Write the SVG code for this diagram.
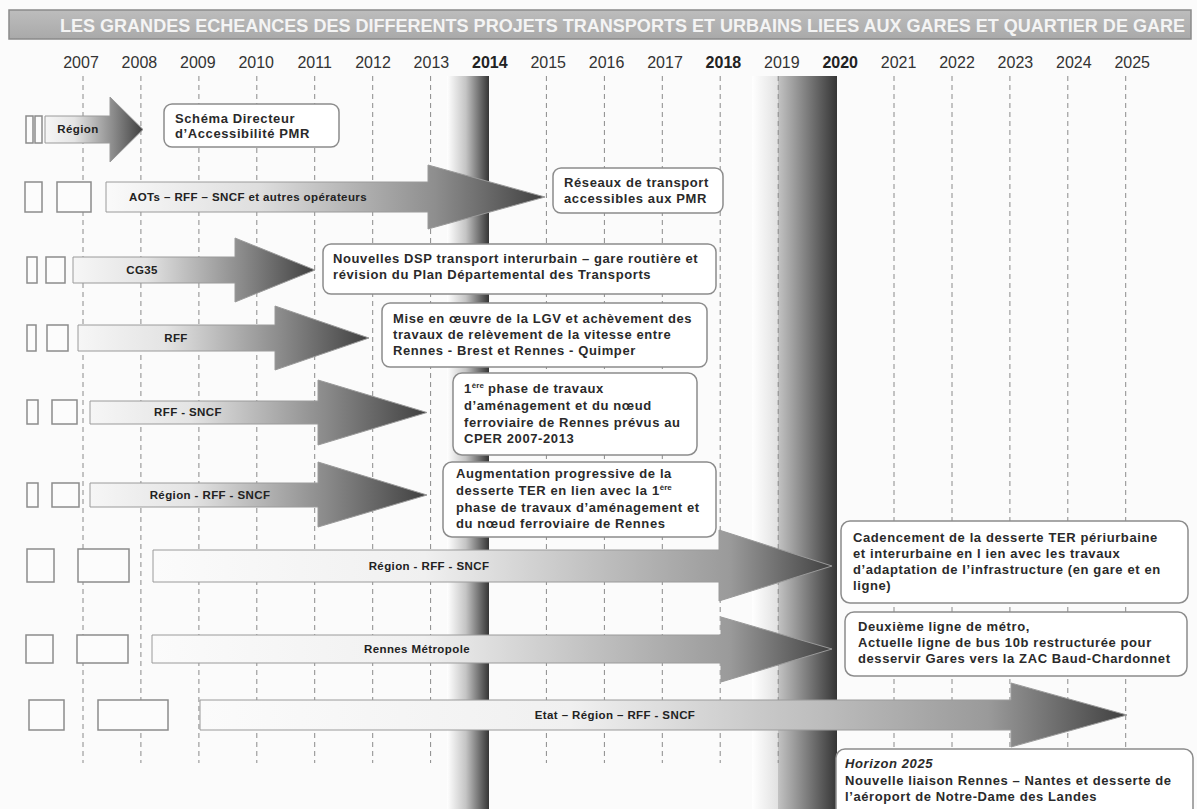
<svg xmlns="http://www.w3.org/2000/svg" width="1197" height="809" viewBox="0 0 1197 809">
  <defs>
    <!-- shading for the milestone bands (dark edge on the right) -->
    <linearGradient id="band2014" x1="0" y1="0" x2="1" y2="0">
      <stop offset="0" stop-color="#ffffff"/>
      <stop offset="0.45" stop-color="#c4c4c4"/>
      <stop offset="1" stop-color="#353535"/>
    </linearGradient>
    <linearGradient id="band2020" x1="0" y1="0" x2="1" y2="0">
      <stop offset="0" stop-color="#ffffff"/>
      <stop offset="0.3" stop-color="#e2e2e2"/>
      <stop offset="0.31" stop-color="#c2c2c2"/>
      <stop offset="1" stop-color="#353535"/>
    </linearGradient>
    <!-- arrow fills: light tail to dark head -->
    <linearGradient id="arrShort" x1="0" y1="0" x2="1" y2="0">
      <stop offset="0" stop-color="#f6f6f6"/>
      <stop offset="0.3" stop-color="#e4e4e4"/>
      <stop offset="0.7" stop-color="#8a8a8a"/>
      <stop offset="1" stop-color="#404040"/>
    </linearGradient>
    <linearGradient id="arrMid" x1="0" y1="0" x2="1" y2="0">
      <stop offset="0" stop-color="#fafafa"/>
      <stop offset="0.35" stop-color="#dedede"/>
      <stop offset="0.75" stop-color="#8e8e8e"/>
      <stop offset="1" stop-color="#404040"/>
    </linearGradient>
    <linearGradient id="arrLong" x1="0" y1="0" x2="1" y2="0">
      <stop offset="0" stop-color="#fbfbfb"/>
      <stop offset="0.4" stop-color="#f0f0f0"/>
      <stop offset="0.85" stop-color="#9a9a9a"/>
      <stop offset="1" stop-color="#404040"/>
    </linearGradient>
    <linearGradient id="header" x1="0" y1="0" x2="0" y2="1">
      <stop offset="0" stop-color="#bdbdbd"/>
      <stop offset="1" stop-color="#a9a9a9"/>
    </linearGradient>
  </defs>
  <style>
    .year { font-family: "Liberation Sans", Arial, sans-serif; font-size: 16px; fill: #333; text-anchor: middle; }
    .year.key { font-weight: bold; fill: #222; }
    .grid { stroke: #8a8a8a; stroke-width: 1; stroke-dasharray: 5 4; fill: none; }
    .stub { fill: #fcfcfc; stroke: #8c8c8c; stroke-width: 1.5; }
    .arrow { stroke: #9a9a9a; stroke-width: 1; }
    .alabel { font-family: "Liberation Sans", Arial, sans-serif; font-size: 11.5px; letter-spacing: 0.4px; font-weight: bold; fill: #222; }
    .box { fill: #ffffff; stroke: #8c8c8c; stroke-width: 1.5; }
    .btext { font-family: "Liberation Sans", Arial, sans-serif; font-size: 13px; letter-spacing: 0.6px; font-weight: bold; fill: #2a2a2a; }
    .sup { font-size: 8px; letter-spacing: 0; }
  </style>

  <rect x="0" y="0" width="1197" height="809" fill="#fbfbfb"/>

  <!-- title bar -->
  <g id="title">
    <rect x="9" y="10" width="1182" height="29" fill="url(#header)" stroke="#8a8a8a" stroke-width="1.5"/>
    <text x="60" y="32" textLength="1125" lengthAdjust="spacingAndGlyphs" font-family="Liberation Sans, Arial, sans-serif" font-size="17.5" font-weight="bold" fill="#f4f4f4">LES GRANDES ECHEANCES DES DIFFERENTS PROJETS TRANSPORTS ET URBAINS LIEES AUX GARES ET QUARTIER DE GARE</text>
  </g>

  <!-- milestone bands -->
  <g id="bands">
    <rect x="447" y="76" width="42" height="733" fill="url(#band2014)"/>
    <rect x="752" y="76" width="85" height="733" fill="url(#band2020)"/>
  </g>

  <!-- year axis -->
  <g id="years">
    <text class="year" x="81" y="68">2007</text>
    <text class="year" x="139.4" y="68">2008</text>
    <text class="year" x="197.8" y="68">2009</text>
    <text class="year" x="256.2" y="68">2010</text>
    <text class="year" x="314.6" y="68">2011</text>
    <text class="year" x="373" y="68">2012</text>
    <text class="year" x="431.4" y="68">2013</text>
    <text class="year key" x="489.8" y="68">2014</text>
    <text class="year" x="548.2" y="68">2015</text>
    <text class="year" x="606.6" y="68">2016</text>
    <text class="year" x="665" y="68">2017</text>
    <text class="year key" x="723.4" y="68">2018</text>
    <text class="year" x="781.8" y="68">2019</text>
    <text class="year key" x="840.2" y="68">2020</text>
    <text class="year" x="898.6" y="68">2021</text>
    <text class="year" x="957" y="68">2022</text>
    <text class="year" x="1015.4" y="68">2023</text>
    <text class="year" x="1073.8" y="68">2024</text>
    <text class="year" x="1132.2" y="68">2025</text>
  </g>
  <g id="gridlines">
    <path class="grid" d="M83 76V763M140.9 76V763M198.9 76V763M256.8 76V763M314.7 76V763M372.7 76V763M430.6 76V763M546.4 76V763M604.4 76V763M662.3 76V763M720.2 76V763M778.2 76V763M894 76V763M952 76V763M1009.9 76V763M1067.8 76V763M1125.7 76V763"/>
  </g>

  <!-- actor arrows -->
  <g id="connectors">
    <g id="arrow-region">
      <rect class="stub" x="26" y="116" width="7" height="27"/>
      <rect class="stub" x="35" y="116" width="7" height="27"/>
      <path class="arrow" fill="url(#arrShort)" d="M45 116H110V97L143 129.5L110 162V143H45Z"/>
      <text class="alabel" x="78" y="133" text-anchor="middle">Région</text>
    </g>
    <g id="arrow-aots">
      <rect class="stub" x="25" y="182" width="17" height="30"/>
      <rect class="stub" x="57" y="182" width="34" height="30"/>
      <path class="arrow" fill="url(#arrMid)" d="M106 182H428V165L545 197L428 229V212H106Z"/>
      <text class="alabel" x="129" y="201">AOTs – RFF – SNCF et autres opérateurs</text>
    </g>
    <g id="arrow-cg35">
      <rect class="stub" x="27" y="257" width="10" height="26"/>
      <rect class="stub" x="46" y="257" width="19" height="26"/>
      <path class="arrow" fill="url(#arrShort)" d="M73 257H235V238L315 270L235 302V283H73Z"/>
      <text class="alabel" x="142" y="274" text-anchor="middle">CG35</text>
    </g>
    <g id="arrow-rff">
      <rect class="stub" x="27" y="325" width="9" height="26"/>
      <rect class="stub" x="47" y="325" width="21" height="26"/>
      <path class="arrow" fill="url(#arrShort)" d="M78 325H275V306L369 338L275 370V351H78Z"/>
      <text class="alabel" x="176" y="342" text-anchor="middle">RFF</text>
    </g>
    <g id="arrow-rff-sncf">
      <rect class="stub" x="27" y="400" width="11" height="24"/>
      <rect class="stub" x="52" y="400" width="25" height="24"/>
      <path class="arrow" fill="url(#arrShort)" d="M90 401H318V380L427 412.5L318 445V424H90Z"/>
      <text class="alabel" x="188" y="416" text-anchor="middle">RFF - SNCF</text>
    </g>
    <g id="arrow-region-rff-sncf">
      <rect class="stub" x="27" y="483" width="11" height="24"/>
      <rect class="stub" x="52" y="483" width="27" height="24"/>
      <path class="arrow" fill="url(#arrShort)" d="M90 483H318V462L427 495L318 527V507H90Z"/>
      <text class="alabel" x="210" y="499" text-anchor="middle">Région - RFF - SNCF</text>
    </g>
    <g id="arrow-ter">
      <rect class="stub" x="27" y="549" width="27" height="33"/>
      <rect class="stub" x="78" y="549" width="51" height="33"/>
      <path class="arrow" fill="url(#arrLong)" d="M153 550H719V530L832 566L719 601V582H153Z"/>
      <text class="alabel" x="429" y="570" text-anchor="middle">Région - RFF - SNCF</text>
    </g>
    <g id="arrow-metropole">
      <rect class="stub" x="26" y="635" width="27" height="28"/>
      <rect class="stub" x="77" y="635" width="51" height="28"/>
      <path class="arrow" fill="url(#arrLong)" d="M152 635H721V617L832 649L721 682V663H152Z"/>
      <text class="alabel" x="417" y="653" text-anchor="middle">Rennes Métropole</text>
    </g>
    <g id="arrow-etat">
      <rect class="stub" x="29" y="700" width="35" height="30"/>
      <rect class="stub" x="98" y="700" width="70" height="30"/>
      <path class="arrow" fill="url(#arrLong)" d="M200 700H1011V683L1127 715L1011 747V730H200Z"/>
      <text class="alabel" x="615" y="719" text-anchor="middle">Etat – Région – RFF - SNCF</text>
    </g>
  </g>

  <!-- outcome boxes -->
  <g id="box-schema">
    <rect class="box" x="164" y="104" width="175" height="43" rx="8"/>
    <text class="btext"><tspan x="175" y="123">Schéma Directeur</tspan><tspan x="175" y="138">d’Accessibilité PMR</tspan></text>
  </g>
  <g id="box-reseaux">
    <rect class="box" x="553" y="168" width="170" height="45" rx="8"/>
    <text class="btext"><tspan x="564" y="187">Réseaux de transport</tspan><tspan x="564" y="203">accessibles aux PMR</tspan></text>
  </g>
  <g id="box-dsp">
    <rect class="box" x="323" y="244" width="393" height="50" rx="8"/>
    <text class="btext"><tspan x="333" y="263">Nouvelles DSP transport interurbain – gare routière et</tspan><tspan x="333" y="279">révision du Plan Départemental des Transports</tspan></text>
  </g>
  <g id="box-lgv">
    <rect class="box" x="382" y="303" width="325" height="64" rx="8"/>
    <text class="btext"><tspan x="393" y="323">Mise en œuvre de la LGV et achèvement des</tspan><tspan x="393" y="339">travaux de relèvement de la vitesse entre</tspan><tspan x="393" y="355">Rennes - Brest et Rennes - Quimper</tspan></text>
  </g>
  <g id="box-phase1">
    <rect class="box" x="453" y="373" width="244" height="82" rx="9"/>
    <text class="btext"><tspan x="464" y="393">1</tspan><tspan class="sup" dy="-5">ère</tspan><tspan dy="5"> phase de travaux</tspan><tspan x="464" y="410">d’aménagement et du nœud</tspan><tspan x="464" y="427">ferroviaire de Rennes prévus au</tspan><tspan x="464" y="443">CPER 2007-2013</tspan></text>
  </g>
  <g id="box-ter">
    <rect class="box" x="443" y="462" width="273" height="75" rx="9"/>
    <text class="btext"><tspan x="456" y="478">Augmentation progressive de la</tspan><tspan x="456" y="495">desserte TER en lien avec la 1</tspan><tspan class="sup" dy="-5">ère</tspan><tspan x="456" y="512">phase de travaux d’aménagement et</tspan><tspan x="456" y="528">du nœud ferroviaire de Rennes</tspan></text>
  </g>
  <g id="box-cadencement">
    <rect class="box" x="841" y="521" width="347" height="82" rx="9"/>
    <text class="btext"><tspan x="853" y="542">Cadencement de la desserte TER périurbaine</tspan><tspan x="853" y="558">et interurbaine en l ien avec les travaux</tspan><tspan x="853" y="574">d’adaptation de l’infrastructure (en gare et en</tspan><tspan x="853" y="590">ligne)</tspan></text>
  </g>
  <g id="box-metro">
    <rect class="box" x="845" y="612" width="342" height="64" rx="9"/>
    <text class="btext"><tspan x="858" y="631">Deuxième ligne de métro,</tspan><tspan x="858" y="647">Actuelle ligne de bus 10b restructurée pour</tspan><tspan x="858" y="663">desservir Gares vers la ZAC Baud-Chardonnet</tspan></text>
  </g>
  <g id="box-horizon">
    <rect class="box" x="836" y="749" width="357" height="70" rx="9"/>
    <text class="btext"><tspan x="845" y="768" font-style="italic">Horizon 2025</tspan><tspan x="845" y="785">Nouvelle liaison Rennes – Nantes et desserte de</tspan><tspan x="845" y="801">l’aéroport de Notre-Dame des Landes</tspan></text>
  </g>
</svg>
